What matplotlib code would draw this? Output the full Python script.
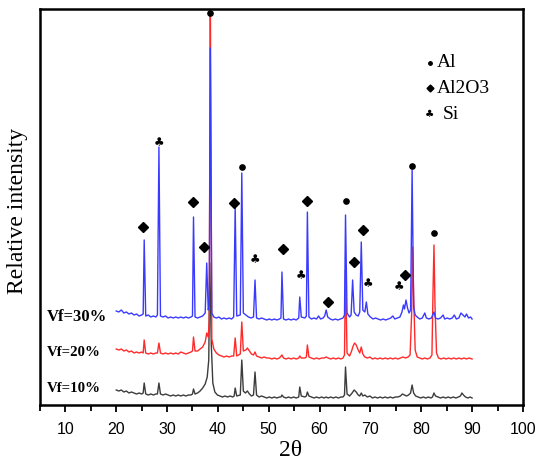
import numpy as np
import matplotlib
matplotlib.use("Agg")
import matplotlib.pyplot as plt
from matplotlib.ticker import MultipleLocator

# XRD patterns (2theta, relative intensity incl. vertical offset)
vf10 = [(20.0, 15), (20.5, 14), (21.0, 15), (21.5, 13), (22.0, 14), (22.5, 12), (23.0, 13), (23.5, 12),
        (24.0, 11), (24.5, 12), (25.0, 11), (25.3, 12), (25.5, 22), (25.8, 11), (26.3, 10), (26.8, 11),
        (27.3, 10), (27.8, 11), (28.1, 11), (28.4, 22), (28.7, 11), (29.2, 10), (29.7, 11), (30.2, 10),
        (30.7, 9), (31.2, 10), (31.7, 9), (32.2, 10), (32.7, 9), (33.2, 10), (33.7, 9), (34.2, 10),
        (34.7, 10), (35.0, 11), (35.2, 16), (35.5, 11), (36.0, 12), (36.5, 14), (37.0, 17), (37.5, 21),
        (37.9, 28), (38.2, 45), (38.4, 142), (38.7, 60), (39.0, 22), (39.4, 13), (39.9, 10), (40.4, 9),
        (40.9, 8), (41.4, 9), (41.9, 8), (42.4, 9), (42.9, 8), (43.2, 9), (43.4, 17), (43.7, 9),
        (44.4, 10), (44.7, 45), (45.0, 14), (45.4, 12), (45.8, 14), (46.2, 11), (46.6, 9), (47.0, 10),
        (47.3, 33), (47.6, 10), (48.1, 8), (48.6, 9), (49.1, 8), (49.6, 7), (50.1, 8), (50.6, 7),
        (51.1, 8), (51.6, 7), (52.1, 8), (52.4, 8), (52.6, 10), (52.9, 8), (53.4, 7), (53.9, 8),
        (54.4, 7), (54.9, 8), (55.4, 7), (55.9, 8), (56.1, 18), (56.4, 9), (57.1, 8), (57.4, 9),
        (57.6, 13), (57.9, 9), (58.4, 8), (58.9, 7), (59.4, 8), (59.9, 7), (60.4, 8), (60.9, 7),
        (61.3, 8), (61.7, 7), (62.2, 8), (62.7, 7), (63.2, 8), (63.7, 7), (64.2, 8), (64.6, 8),
        (64.9, 10), (65.1, 38), (65.4, 11), (65.9, 9), (66.4, 12), (66.8, 15), (67.2, 13), (67.6, 10),
        (67.9, 9), (68.2, 12), (68.5, 9), (68.9, 10), (69.4, 8), (69.9, 9), (70.4, 7), (70.9, 8),
        (71.4, 7), (71.9, 8), (72.4, 7), (72.9, 8), (73.4, 7), (73.9, 8), (74.4, 7), (74.9, 8),
        (75.4, 8), (75.9, 9), (76.3, 11), (76.7, 10), (77.1, 9), (77.5, 10), (77.9, 12), (78.2, 20),
        (78.5, 12), (78.9, 9), (79.4, 8), (79.9, 7), (80.4, 8), (80.9, 7), (81.4, 8), (81.9, 7),
        (82.2, 8), (82.5, 12), (82.8, 9), (83.3, 8), (83.8, 7), (84.3, 8), (84.8, 7), (85.3, 8),
        (85.8, 7), (86.3, 8), (86.8, 7), (87.3, 8), (87.7, 9), (88.0, 12), (88.3, 10), (88.7, 8),
        (89.2, 7), (89.6, 8), (90.0, 7)]

vf20 = [(20.0, 56), (20.5, 55), (21.0, 56), (21.5, 54), (22.0, 55), (22.5, 53), (23.0, 54), (23.5, 52),
        (24.0, 53), (24.5, 52), (25.0, 53), (25.3, 52), (25.5, 65), (25.8, 52), (26.3, 51), (26.8, 52),
        (27.3, 51), (27.8, 52), (28.1, 52), (28.4, 62), (28.7, 52), (29.2, 51), (29.7, 52), (30.2, 51),
        (30.7, 52), (31.2, 51), (31.7, 52), (32.2, 51), (32.7, 53), (33.2, 52), (33.7, 51), (34.2, 52),
        (34.7, 53), (35.0, 54), (35.2, 68), (35.5, 54), (36.0, 54), (36.5, 56), (37.0, 58), (37.5, 63),
        (37.8, 72), (38.1, 68), (38.3, 85), (38.5, 420), (38.8, 66), (39.2, 56), (39.7, 52), (40.2, 50),
        (40.7, 49), (41.2, 48), (41.7, 49), (42.2, 48), (42.7, 49), (43.1, 49), (43.4, 67), (43.7, 49),
        (44.4, 51), (44.7, 83), (45.0, 54), (45.5, 55), (45.8, 57), (46.2, 54), (46.6, 51), (47.0, 50),
        (47.3, 53), (47.6, 49), (48.1, 48), (48.6, 47), (49.1, 48), (49.6, 47), (50.1, 47), (50.6, 46),
        (51.1, 47), (51.6, 46), (52.1, 47), (52.6, 50), (52.9, 47), (53.4, 46), (53.9, 47), (54.4, 46),
        (54.9, 47), (55.4, 46), (55.9, 47), (56.1, 49), (56.4, 47), (57.1, 47), (57.4, 48), (57.6, 60),
        (57.9, 48), (58.4, 47), (58.9, 46), (59.4, 47), (59.9, 46), (60.4, 47), (60.9, 47), (61.3, 48),
        (61.7, 47), (62.2, 46), (62.7, 47), (63.2, 46), (63.7, 47), (64.2, 46), (64.6, 47), (64.9, 50),
        (65.1, 135), (65.4, 52), (65.9, 49), (66.3, 54), (66.6, 59), (66.9, 62), (67.2, 60), (67.6, 55),
        (67.9, 52), (68.2, 58), (68.5, 51), (68.9, 48), (69.4, 47), (69.9, 48), (70.4, 46), (70.9, 47),
        (71.4, 46), (71.9, 47), (72.4, 46), (72.9, 47), (73.4, 46), (73.9, 47), (74.4, 46), (74.9, 47),
        (75.4, 46), (75.9, 47), (76.4, 48), (76.9, 47), (77.4, 48), (77.8, 50), (78.1, 90), (78.3, 158),
        (78.5, 110), (78.8, 55), (79.2, 48), (79.7, 47), (80.2, 46), (80.7, 47), (81.2, 46), (81.7, 47),
        (82.1, 50), (82.3, 110), (82.5, 160), (82.7, 100), (83.0, 52), (83.4, 47), (83.9, 46), (84.4, 47),
        (84.9, 46), (85.4, 47), (85.9, 46), (86.4, 47), (86.9, 46), (87.4, 47), (87.9, 46), (88.4, 47),
        (88.9, 46), (89.4, 47), (90.0, 46)]

vf30 = [(20.0, 94), (20.5, 93), (21.0, 95), (21.5, 92), (22.0, 93), (22.5, 91), (23.0, 92), (23.5, 90),
        (24.0, 91), (24.5, 89), (25.0, 90), (25.3, 91), (25.5, 165), (25.8, 89), (26.3, 90), (26.8, 88),
        (27.3, 89), (27.8, 88), (28.1, 90), (28.4, 258), (28.7, 89), (29.2, 88), (29.7, 89), (30.2, 87),
        (30.7, 88), (31.2, 87), (31.7, 88), (32.2, 87), (32.7, 88), (33.2, 87), (33.7, 88), (34.2, 87),
        (34.7, 88), (35.0, 89), (35.2, 188), (35.5, 88), (36.0, 87), (36.5, 88), (37.0, 89), (37.5, 92),
        (37.8, 142), (38.1, 95), (38.3, 100), (38.5, 357), (38.8, 92), (39.2, 88), (39.7, 87), (40.2, 88),
        (40.7, 86), (41.2, 87), (41.7, 86), (42.2, 87), (42.7, 86), (43.1, 88), (43.4, 198), (43.7, 89),
        (44.4, 90), (44.7, 232), (45.0, 92), (45.5, 90), (46.0, 88), (46.5, 87), (47.0, 88), (47.3, 125),
        (47.6, 87), (48.1, 86), (48.6, 87), (49.1, 86), (49.6, 85), (50.1, 86), (50.6, 85), (51.1, 86),
        (51.6, 85), (52.1, 86), (52.4, 87), (52.6, 133), (52.9, 86), (53.4, 85), (53.9, 86), (54.4, 85),
        (54.9, 86), (55.4, 85), (55.9, 87), (56.1, 108), (56.4, 88), (57.1, 87), (57.4, 89), (57.6, 193),
        (57.9, 88), (58.4, 86), (58.9, 87), (59.4, 86), (59.8, 89), (60.2, 86), (60.7, 87), (61.0, 89),
        (61.3, 95), (61.6, 88), (62.1, 86), (62.6, 85), (63.1, 86), (63.6, 85), (64.1, 86), (64.6, 87),
        (64.9, 90), (65.1, 190), (65.4, 92), (65.9, 88), (66.2, 90), (66.5, 125), (66.8, 93), (67.2, 90),
        (67.6, 89), (67.9, 93), (68.2, 163), (68.5, 95), (68.9, 93), (69.2, 103), (69.5, 91), (70.0, 88),
        (70.5, 86), (71.0, 87), (71.5, 86), (72.0, 85), (72.5, 86), (73.0, 85), (73.5, 86), (74.0, 87),
        (74.4, 89), (74.8, 86), (75.3, 87), (75.8, 88), (76.2, 93), (76.5, 100), (76.7, 96), (77.0, 105),
        (77.3, 97), (77.6, 92), (77.9, 95), (78.2, 235), (78.5, 98), (78.8, 90), (79.2, 88), (79.7, 86),
        (80.2, 87), (80.7, 92), (81.0, 87), (81.5, 86), (82.0, 87), (82.5, 93), (82.8, 87), (83.3, 86),
        (83.8, 87), (84.3, 90), (84.6, 86), (85.1, 87), (85.6, 86), (86.1, 87), (86.5, 90), (86.9, 86),
        (87.4, 87), (87.8, 92), (88.2, 90), (88.6, 88), (88.9, 91), (89.3, 87), (89.7, 88), (90.0, 86)]

# phase markers above the peaks
al_x = [38.5, 44.7, 65.1, 78.2, 82.5]
al_y = [392, 238, 204, 239, 172]
al2o3_x = [25.2, 35.1, 37.2, 43.2, 52.9, 57.5, 61.6, 66.8, 68.5, 76.9]
al2o3_y = [178, 203, 158, 202, 156, 204, 103, 143, 175, 130]
si_x = [28.5, 47.2, 56.3, 69.5, 75.7]
si_y = [262, 145, 129, 121, 118]

labels = ["Vf=10%", "Vf=20%", "Vf=30%"]
label_y = [17, 52, 88]
label_size = [10.7, 10.7, 12]

fig = plt.figure(figsize=(5.38, 4.66), dpi=100)
ax = fig.add_axes([0.0743, 0.1309, 0.8977, 0.8498])

for data, color in [(vf10, '#3c3c3c'), (vf20, '#ff2a2a'), (vf30, '#3a3aff')]:
    arr = np.array(data)
    ax.plot(arr[:, 0], arr[:, 1], color=color, lw=1.0)

ax.plot(al_x, al_y, 'o', color='black', ms=3.8, clip_on=False)
ax.plot(al2o3_x, al2o3_y, 'D', color='black', ms=5.2)
for x, y in zip(si_x, si_y):
    ax.text(x, y, '\u2663', ha='center', va='center', fontsize=8.5,
            family='DejaVu Sans', color='black')

for txt, y, s in zip(labels, label_y, label_size):
    ax.text(6.4, y, txt, ha='left', va='center', fontsize=s,
            family='Liberation Serif', fontweight='bold')

# phase legend
ax.plot([0.807], [0.863], 'o', color='black', ms=2.5, transform=ax.transAxes)
ax.plot([0.807], [0.800], 'D', color='black', ms=3.5, transform=ax.transAxes)
ax.text(0.807, 0.734, '\u2663', transform=ax.transAxes, ha='center', va='center',
        fontsize=7.5, family='DejaVu Sans')
ax.text(0.822, 0.865, 'Al', transform=ax.transAxes, ha='left', va='center',
        fontsize=14, family='Liberation Serif')
ax.text(0.822, 0.800, 'Al2O3', transform=ax.transAxes, ha='left', va='center',
        fontsize=14, family='Liberation Serif')
ax.text(0.834, 0.734, 'Si', transform=ax.transAxes, ha='left', va='center',
        fontsize=14, family='Liberation Serif')

ax.set_xlim(5, 100)
ax.set_ylim(0, 396)
ax.xaxis.set_major_locator(MultipleLocator(10))
ax.xaxis.set_minor_locator(MultipleLocator(5))
ax.tick_params(axis='x', which='major', direction='out', length=5, width=1.3,
               pad=7, labelsize=11.5)
ax.tick_params(axis='x', which='minor', direction='out', length=4, width=1.3)
ax.set_xticks(range(10, 101, 10))
ax.set_yticks([])
for lab in ax.get_xticklabels():
    lab.set_family('Liberation Sans')
for sp in ax.spines.values():
    sp.set_linewidth(1.8)

ax.text(0.518, -0.116, '2\u03b8', transform=ax.transAxes, ha='center', va='center',
        fontsize=17, family='Liberation Serif')
ax.text(-0.047, 0.49, 'Relative intensity', transform=ax.transAxes, rotation=90,
        ha='center', va='center', fontsize=17, family='Liberation Serif')

fig.savefig('out.png', dpi=100)
